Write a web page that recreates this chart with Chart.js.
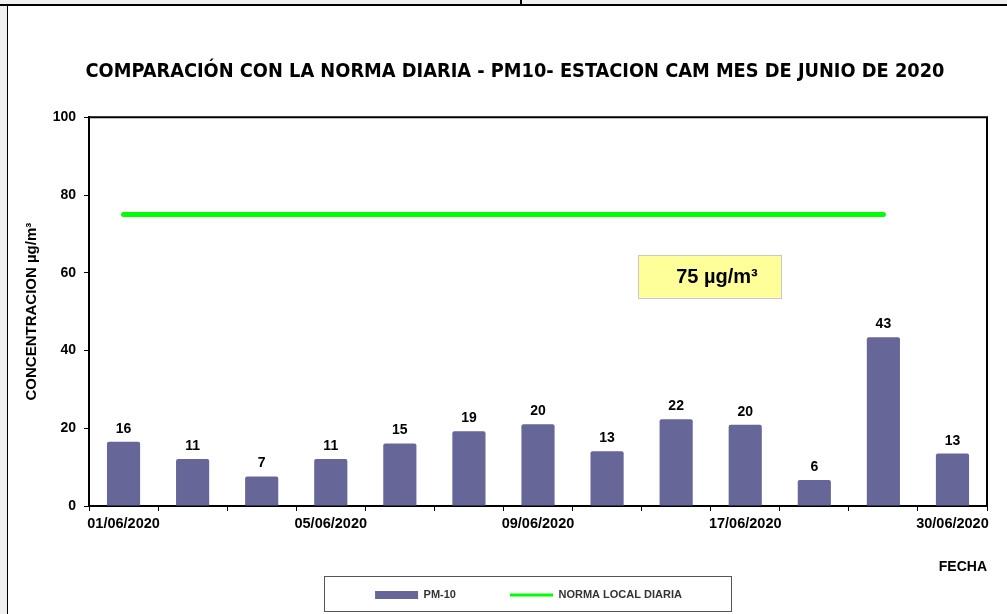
<!DOCTYPE html>
<html>
<head>
<meta charset="utf-8">
<script src="https://cdn.jsdelivr.net/npm/chart.js@4.4.1/dist/chart.umd.min.js"></script>
<style>
html,body{margin:0;padding:0;background:#fff;overflow:hidden}
#wrap{position:relative;width:1007px;height:614px;background:#fff}
.f{position:absolute}
#c{position:absolute;left:0;top:0}
</style>
</head>
<body>
<div id="wrap">
  <div class="f" style="left:0;top:0;width:1007px;height:4px;background:#f0f0f0"></div>
  <div class="f" style="left:0;top:4px;width:1007px;height:2px;background:#000"></div>
  <div class="f" style="left:520px;top:0;width:2px;height:4px;background:#000"></div>
  <div class="f" style="left:0;top:6px;width:7px;height:608px;background:#f0f0f0"></div>
  <div class="f" style="left:7px;top:6px;width:1px;height:608px;background:#000"></div>
  <canvas id="c" width="1007" height="614"></canvas>
</div>
<script>
// ---- data ----
const categories = ['01/06/2020','','','05/06/2020','','','09/06/2020','','','17/06/2020','','','30/06/2020'];
const pm10 = [16.5, 12.1, 7.6, 12.1, 16.1, 19.2, 21.0, 14.1, 22.3, 20.9, 6.7, 43.4, 13.5];
const pm10Labels = ['16','11','7','11','15','19','20','13','22','20','6','43','13'];
const norma = [75, 75, 75, 75, 75, 75, 75, 75, 75, 75, 75, 75, null];
const yTicks = [0, 20, 40, 60, 80, 100];
const seriesNames = ['PM-10', 'NORMA LOCAL DIARIA'];
const chartTitle = 'COMPARACIÓN CON LA NORMA DIARIA - PM10- ESTACION CAM MES DE JUNIO DE 2020';
const yTitle = 'CONCENTRACION µg/m³';
const xTitle = 'FECHA';
const noteText = '75 µg/m³';

// ---- styling / placement ----
const FONT = "'Liberation Sans', Arial, sans-serif";
const BAR_COLOR = '#666699';
const LINE_COLOR = '#00ff00';
const noteBox = {x0: 7.45, x1: 9.52, y0: 53.6, y1: 64.6, textDx: 38};
const LEGEND_SHIFT = 13.5;

Chart.defaults.font.family = FONT;
Chart.defaults.color = '#000';

const legendShift = {
  id: 'legendShift',
  afterLayout(chart) {
    const l = chart.legend;
    if (l) { l.left += LEGEND_SHIFT; l.right += LEGEND_SHIFT; }
  }
};

const plotFrame = {
  id: 'plotFrame',
  afterDraw(chart) {
    const {ctx, chartArea: a} = chart;
    ctx.save();
    ctx.strokeStyle = '#000';
    ctx.lineWidth = 2;
    ctx.beginPath();
    ctx.moveTo(a.left, a.top);
    ctx.lineTo(a.right, a.top);
    ctx.lineTo(a.right, a.bottom);
    ctx.stroke();
    ctx.restore();
  }
};

const legendBorder = {
  id: 'legendBorder',
  afterDraw(chart) {
    const l = chart.legend;
    if (!l || !l.legendHitBoxes || !l.legendHitBoxes.length) return;
    const hb = l.legendHitBoxes;
    const first = hb[0], last = hb[hb.length - 1];
    const left = first.left - 51;
    const right = last.left + last.width + 49;
    const top = first.top - 13.5;
    const ctx = chart.ctx;
    ctx.save();
    ctx.strokeStyle = '#555';
    ctx.lineWidth = 1;
    ctx.strokeRect(Math.round(left) + 0.5, Math.round(top) + 0.5, Math.round(right - left), 35);
    ctx.restore();
  }
};

const barLabels = {
  id: 'barLabels',
  afterDatasetsDraw(chart) {
    const ctx = chart.ctx;
    const meta = chart.getDatasetMeta(0);
    ctx.save();
    ctx.font = 'bold 14px ' + FONT;
    ctx.fillStyle = '#000';
    ctx.textAlign = 'center';
    ctx.textBaseline = 'alphabetic';
    meta.data.forEach((bar, i) => {
      ctx.fillText(pm10Labels[i], bar.x, bar.y - 9);
    });
    ctx.restore();
  }
};

const noteLabel = {
  id: 'noteLabel',
  afterDatasetsDraw(chart) {
    const {ctx, scales: {x, y}} = chart;
    const x0 = x.getPixelForValue(noteBox.x0), x1 = x.getPixelForValue(noteBox.x1);
    const y0 = y.getPixelForValue(noteBox.y1), y1 = y.getPixelForValue(noteBox.y0);
    ctx.save();
    ctx.fillStyle = '#ffff99';
    ctx.fillRect(x0, y0, x1 - x0, y1 - y0);
    ctx.strokeStyle = '#c8c8c8';
    ctx.lineWidth = 1;
    ctx.strokeRect(Math.round(x0) + 0.5, Math.round(y0) + 0.5, Math.round(x1 - x0), Math.round(y1 - y0));
    ctx.fillStyle = '#000';
    ctx.font = 'bold 20px ' + FONT;
    ctx.textAlign = 'left';
    ctx.textBaseline = 'middle';
    ctx.fillText(noteText, x0 + noteBox.textDx, (y0 + y1) / 2 + 1);
    ctx.restore();
  }
};

new Chart(document.getElementById('c'), {
  type: 'bar',
  data: {
    labels: categories,
    datasets: [
      {
        type: 'bar',
        label: seriesNames[0],
        data: pm10,
        backgroundColor: BAR_COLOR,
        borderRadius: 2,
        borderSkipped: 'bottom',
        barPercentage: 0.48,
        categoryPercentage: 1
      },
      {
        type: 'line',
        label: seriesNames[1],
        data: norma,
        borderColor: LINE_COLOR,
        backgroundColor: LINE_COLOR,
        borderWidth: 5,
        borderCapStyle: 'round',
        pointRadius: 0,
        fill: false,
        spanGaps: false
      }
    ]
  },
  options: {
    responsive: false,
    animation: false,
    events: [],
    layout: {padding: {left: 43, right: 20, top: 0, bottom: 3.5}},
    plugins: {
      title: {
        display: true,
        text: chartTitle,
        color: '#000',
        font: {family: "'DejaVu Sans Condensed', 'DejaVu Sans', sans-serif", size: 19.8, weight: 'bold'},
        padding: {top: 60, bottom: 33.5}
      },
      legend: {
        position: 'bottom',
        labels: {
          usePointStyle: true,
          pointStyleWidth: 43,
          boxHeight: 8,
          padding: 54,
          color: '#333',
          font: {size: 11, weight: 'bold'},
          generateLabels: () => [
            {text: seriesNames[0], fillStyle: BAR_COLOR, strokeStyle: BAR_COLOR, lineWidth: 0, pointStyle: 'rect', datasetIndex: 0, hidden: false, fontColor: '#333'},
            {text: seriesNames[1], fillStyle: LINE_COLOR, strokeStyle: LINE_COLOR, lineWidth: 3, lineCap: 'butt', pointStyle: 'line', datasetIndex: 1, hidden: false, fontColor: '#333'}
          ]
        }
      },
      tooltip: {enabled: false}
    },
    scales: {
      x: {
        offset: true,
        grid: {offset: true, drawOnChartArea: false, drawTicks: true, tickLength: 5, color: '#000', lineWidth: 1},
        border: {display: true, color: '#000', width: 2},
        ticks: {autoSkip: false, maxRotation: 0, minRotation: 0, padding: 4, color: '#000', font: {size: 14.5, weight: 'bold'}},
        title: {display: true, text: xTitle, align: 'end', color: '#000', font: {size: 14, weight: 'bold'}, padding: {top: 0, bottom: -40}},
        afterFit: (s) => { s.height = 29.5; }
      },
      y: {
        min: 0,
        max: 100,
        afterBuildTicks: (s) => { s.ticks = yTicks.map(v => ({value: v})); },
        grid: {drawOnChartArea: false, drawTicks: true, tickLength: 5, color: '#000', lineWidth: 1},
        border: {display: true, color: '#000', width: 2},
        ticks: {padding: 8, color: '#000', font: {size: 14, weight: 'bold'}},
        title: {display: true, text: yTitle, color: '#000', font: {size: 15, weight: 'bold'}, padding: {top: -20, bottom: 0}},
        afterFit: (s) => { s.width = 46; }
      }
    }
  },
  plugins: [legendShift, plotFrame, legendBorder, barLabels, noteLabel]
});
</script>
</body>
</html>
